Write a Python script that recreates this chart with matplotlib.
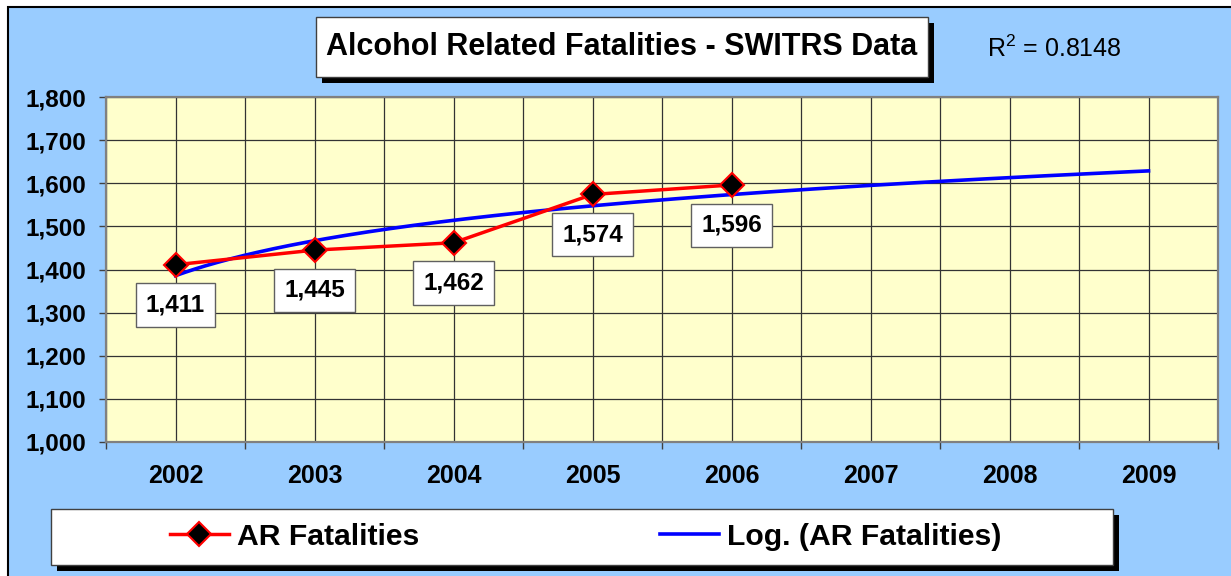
import matplotlib
matplotlib.use("Agg")
import matplotlib.pyplot as plt
import numpy as np
from matplotlib.patches import Rectangle

plt.rcParams["font.family"] = ["Liberation Sans", "DejaVu Sans"]
plt.rcParams["mathtext.fontset"] = "custom"
plt.rcParams["mathtext.rm"] = "Liberation Sans"

# data
years = ["2002", "2003", "2004", "2005", "2006", "2007", "2008", "2009"]
ar_fatalities = [1411, 1445, 1462, 1574, 1596]
r_squared = "0.8148"

BLUE_BG = "#99CCFF"
PLOT_BG = "#FFFFCC"
W, H = 1231, 576


def fx(px):
    return px / W


def fy(py):
    return 1 - py / H


fig = plt.figure(figsize=(12.31, 5.76), dpi=100, facecolor="white")

# chart area background with black frame
fig.patches.append(Rectangle((fx(8), -0.1), 1.2, fy(7) + 0.1, transform=fig.transFigure,
                             facecolor=BLUE_BG, edgecolor="black", linewidth=1.5, zorder=0))

ax = fig.add_axes([fx(106), fy(442), fx(1218) - fx(106), fy(97) - fy(442)], zorder=1)
ax.set_facecolor(PLOT_BG)

pos = np.arange(len(years))
idx = np.arange(1, len(ar_fatalities) + 1)

# logarithmic trendline (Excel style, x = 1..n)
a, b = np.polyfit(np.log(idx), ar_fatalities, 1)
xs = np.linspace(1, len(years), 300)
ax.plot(xs - 1, a * np.log(xs) + b, color="#0000FF", linewidth=2.6, zorder=3,
        label="Log. (AR Fatalities)")

line, = ax.plot(pos[:len(ar_fatalities)], ar_fatalities, color="#FF0000", linewidth=2.5,
                marker="D", markersize=12, markerfacecolor="black", markeredgecolor="#FF0000",
                markeredgewidth=1.5, zorder=4, label="AR Fatalities")

for x, v in zip(pos, ar_fatalities):
    ax.annotate(f"{v:,}", (x, v), xytext=(0, -29), textcoords="offset points",
                ha="center", va="center", fontsize=17.5, fontweight="bold", zorder=5,
                bbox=dict(boxstyle="square,pad=0.42", facecolor="white", edgecolor="#606060",
                          linewidth=1))

ax.set_xlim(-0.5, len(years) - 0.5)
ax.set_ylim(1000, 1800)
ax.set_yticks(np.arange(1000, 1801, 100))
ax.set_yticklabels([f"{v:,}" for v in range(1000, 1801, 100)], fontsize=17.5, fontweight="bold")
ax.set_xticks(np.arange(-0.5, len(years)), labels=[])
ax.set_xticks(pos, minor=True)
ax.set_xticklabels(years, minor=True, fontsize=18, fontweight="bold")
ax.tick_params(axis="x", which="minor", length=0, pad=16)
ax.tick_params(axis="x", which="major", length=5, color="#404040", width=1)
ax.tick_params(axis="y", length=5, pad=9, color="#404040", width=1)

ax.grid(True, which="both", axis="x", color="#333333", linewidth=0.9, zorder=0)
ax.grid(True, which="major", axis="y", color="#333333", linewidth=0.9, zorder=0)
ax.set_axisbelow(True)
for s in ax.spines.values():
    s.set_color("#808080")
    s.set_linewidth(1.6)

# title box with shadow
fig.patches.append(Rectangle((fx(322), fy(83)), fx(934) - fx(322), fy(23) - fy(83),
                             transform=fig.transFigure, facecolor="black", edgecolor="none", zorder=2))
fig.patches.append(Rectangle((fx(316), fy(77)), fx(928) - fx(316), fy(17) - fy(77),
                             transform=fig.transFigure, facecolor="white", edgecolor="#404040",
                             linewidth=1, zorder=2))
fig.text(fx(622), fy(47), "Alcohol Related Fatalities - SWITRS Data", ha="center", va="center",
         fontsize=22, fontweight="bold", zorder=3)

fig.text(fx(1054), fy(49), r"R$^{\mathrm{2}}$ = " + r_squared, ha="center", va="center",
         fontsize=18, zorder=3)

# legend box with shadow
fig.patches.append(Rectangle((fx(57), fy(571)), fx(1119) - fx(57), fy(515) - fy(571),
                             transform=fig.transFigure, facecolor="black", edgecolor="none", zorder=2))
fig.patches.append(Rectangle((fx(51), fy(565)), fx(1113) - fx(51), fy(509) - fy(565),
                             transform=fig.transFigure, facecolor="white", edgecolor="#404040",
                             linewidth=1, zorder=2))
handles, labels = ax.get_legend_handles_labels()
leg = fig.legend(handles[::-1], labels[::-1], loc="center left", bbox_to_anchor=(fx(170), fy(537)),
                 ncol=2, frameon=False, numpoints=1, borderpad=0, borderaxespad=0,
                 handlelength=1.95, handletextpad=0.26, columnspacing=8.0,
                 prop=dict(size=21.7, weight="bold"))
leg.set_zorder(4)

fig.savefig("out.png", dpi=100)
